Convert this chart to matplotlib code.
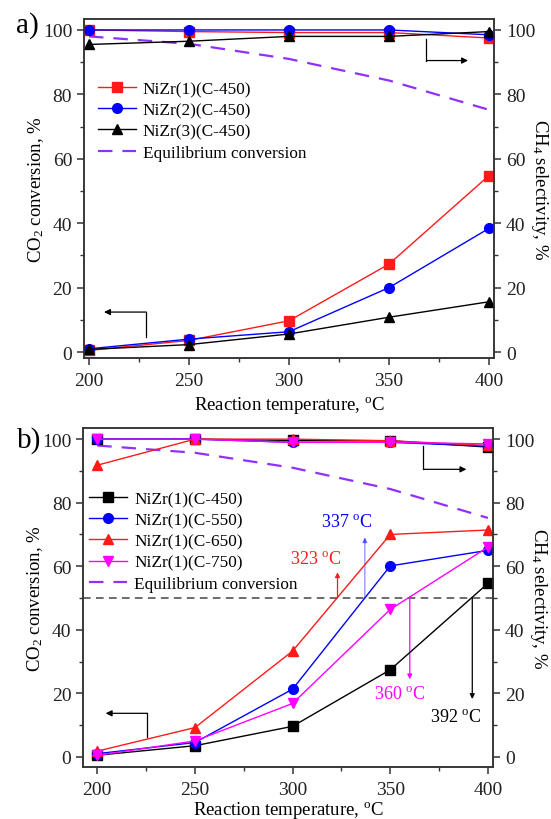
import numpy as np
import matplotlib
matplotlib.use('Agg')
import matplotlib.pyplot as plt

plt.rcParams['font.family'] = ['Liberation Serif', 'DejaVu Serif']
plt.rcParams['mathtext.fontset'] = 'custom'
plt.rcParams['mathtext.rm'] = 'Liberation Serif'
plt.rcParams['mathtext.it'] = 'Liberation Serif:italic'
plt.rcParams['axes.linewidth'] = 1.1
plt.rcParams['axes.edgecolor'] = '#333333'

# ---- data ----
temps = [200, 250, 300, 350, 400]
equil = [98.0, 95.7, 91.0, 84.3, 75.2]

# panel a: conversion and CH4 selectivity
a_labels = ['NiZr(1)(C-450)', 'NiZr(2)(C-450)', 'NiZr(3)(C-450)']
a_conv = [[0.5, 3.6, 9.7, 27.3, 54.8],
          [1.0, 4.0, 6.3, 20.0, 38.4],
          [0.8, 2.3, 5.6, 10.8, 15.6]]
a_sel = [[100.0, 99.5, 99.2, 99.2, 97.5],
         [100.0, 100.0, 100.0, 100.0, 98.5],
         [95.5, 96.5, 98.0, 98.0, 99.5]]
a_colors = ['#ff1a1a', '#0000ff', 'black']
a_markers = ['s', 'o', '^']

# panel b
b_labels = ['NiZr(1)(C-450)', 'NiZr(1)(C-550)', 'NiZr(1)(C-650)', 'NiZr(1)(C-750)']
b_conv = [[0.5, 3.5, 9.6, 27.4, 54.6],
          [1.0, 4.5, 21.3, 60.1, 65.0],
          [1.8, 9.2, 33.3, 70.0, 71.4],
          [0.5, 5.0, 16.8, 46.4, 66.0]]
b_sel = [[100.0, 100.0, 99.6, 99.5, 97.5],
         [100.0, 100.0, 99.0, 99.0, 97.8],
         [91.8, 100.0, 100.0, 99.5, 98.0],
         [100.0, 100.0, 99.0, 99.0, 98.5]]
b_colors = ['black', '#0000ff', '#ff1a1a', '#ff00ff']
b_markers = ['s', 'o', '^', 'v']

# T at 50 % conversion
t50 = [392, 337, 323, 360]
t50_colors = ['black', '#0000ff', '#ff1a1a', '#ff00ff']

eq_color = '#9030ff'


def setup_axes(ax, xlim, ylim, xlab_y):
    ax.set_xlim(*xlim)
    ax.set_ylim(*ylim)
    ax.set_xticks(temps)
    ax.set_xticks([225, 275, 325, 375], minor=True)
    ax.set_yticks([0, 20, 40, 60, 80, 100])
    ax.set_yticks([10, 30, 50, 70, 90], minor=True)
    ax.tick_params(which='both', direction='out', labelsize=14, colors='#333333',
                   labelcolor='#222222', top=False, right=False)
    ax.tick_params(which='major', length=5, width=1.1)
    ax.tick_params(which='minor', length=3, width=1.0)
    ax.tick_params(axis='x', pad=5)
    ax.set_xlabel('Reaction temperature, $^{\\rm o}$C', fontsize=13.5, va='center')
    ax.xaxis.set_label_coords(0.5, xlab_y)
    ax.set_ylabel('CO$_2$ conversion, %', fontsize=13.5, va='center')
    ax.yaxis.set_label_coords(-0.117, 0.5)
    ax2 = ax.twinx()
    ax2.set_ylim(*ylim)
    ax2.set_yticks([0, 20, 40, 60, 80, 100])
    ax2.set_yticks([10, 30, 50, 70, 90], minor=True)
    ax2.tick_params(which='both', direction='out', labelsize=14, colors='#333333',
                    labelcolor='#222222')
    ax2.tick_params(which='major', length=5, width=1.1)
    ax2.tick_params(which='minor', length=3, width=1.0)
    ax2.set_ylabel('CH$_4$ selectivity, %', fontsize=13.5, rotation=270, va='center')
    ax2.yaxis.set_label_coords(1.11, 0.5)
    return ax2


def side_arrows(ax, left, right):
    # each: (x of vertical line, y start, y corner, x of arrow tip)
    for x, y0, y1, xe in (left, right):
        ax.plot([x, x], [y0, y1], color='black', lw=0.9)
        ax.annotate('', xy=(xe, y1), xytext=(x, y1),
                    arrowprops=dict(arrowstyle='-|>', color='black', lw=0.9, mutation_scale=9,
                                    shrinkA=0, shrinkB=0))


fig = plt.figure(figsize=(5.51, 8.2), dpi=100)

# ---------- panel a ----------
axa = fig.add_axes([0.1525, 0.5622, 0.7441, 0.4134])
axa2 = setup_axes(axa, (197.5, 402.5), (-1.86, 103.4), -0.136)
for conv, sel, c, m, lab in zip(a_conv, a_sel, a_colors, a_markers, a_labels):
    axa.plot(temps, conv, color=c, marker=m, ms=7, lw=1.0, label=lab, zorder=3)
    axa.plot(temps, sel, color=c, marker=m, ms=7, lw=1.0, zorder=3)
axa.plot(temps, equil, color=eq_color, lw=1.6, dashes=(6.5, 4.5),
         label='Equilibrium conversion', zorder=2)
side_arrows(axa, (228.6, 4.7, 12.4, 207.5), (368.7, 97.2, 90.5, 389.5))
axa.legend(loc='upper left', bbox_to_anchor=(0.178, 0.9), bbox_transform=fig.transFigure,
           frameon=False, fontsize=12.4, handlelength=2.2, handletextpad=0.4,
           labelspacing=0.3, borderpad=0, borderaxespad=0)
fig.text(0.05, 0.969, 'a)', fontsize=21, ha='center', va='center')

# ---------- panel b ----------
axb = fig.add_axes([0.151, 0.0638, 0.7437, 0.4130])
axb2 = setup_axes(axb, (192.8, 402.6), (-3.1, 103.5), -0.125)
for conv, sel, c, m, lab in zip(b_conv, b_sel, b_colors, b_markers, b_labels):
    axb.plot(temps, conv, color=c, marker=m, ms=7, lw=1.0, label=lab, zorder=3)
    axb.plot(temps, sel, color=c, marker=m, ms=7, lw=1.0, zorder=3)
axb.plot(temps, equil, color=eq_color, lw=1.6, dashes=(6.5, 4.5),
         label='Equilibrium conversion', zorder=2)
axb.axhline(50, color='#444444', lw=1.1, dashes=(5, 3.5), zorder=1)
side_arrows(axb, (225.5, 6.1, 13.7, 204.3), (367, 97.8, 90.5, 389))

# T50 arrows and labels
arrow_tips = [18.2, 69.1, 58.1, 24.4]
text_pos = [(383.5, 12.8), (327.6, 74.1), (312, 62.5), (354.6, 20.0)]
for t, c, tip, (tx, ty) in zip(t50, t50_colors, arrow_tips, text_pos):
    alpha = 0.45 if c == '#0000ff' else 1.0
    axb.annotate('', xy=(t, tip), xytext=(t, 50),
                 arrowprops=dict(arrowstyle='-|>', color=c, lw=0.9, mutation_scale=7,
                                 shrinkA=0, shrinkB=0, alpha=alpha), zorder=2)
    axb.text(tx, ty, '%d $^{\\rm o}$C' % t, color=c, fontsize=13, ha='center', va='center')

axb.legend(loc='upper left', bbox_to_anchor=(0.162, 0.4), bbox_transform=fig.transFigure,
           frameon=False, fontsize=12.4, handlelength=2.2, handletextpad=0.4,
           labelspacing=0.3, borderpad=0, borderaxespad=0)
fig.text(0.053, 0.463, 'b)', fontsize=21, ha='center', va='center')

fig.savefig('out.png', dpi=100)
